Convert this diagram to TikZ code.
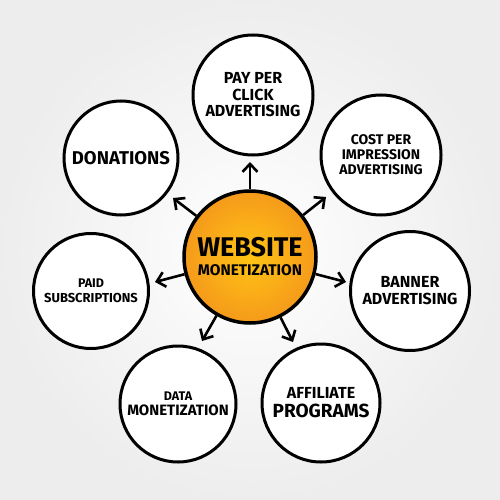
\documentclass[tikz,border=0pt]{standalone}
\usepackage{fontspec}
\setmainfont{Fira Sans}
\usetikzlibrary{arrows.meta}
\definecolor{ringorangeA}{HTML}{FFC414}
\definecolor{ringorangeB}{HTML}{F59A1B}
\newcommand{\fs}[2]{\fontsize{#1}{#2}\selectfont}
\tikzset{
  leaf/.style={circle, draw=black, line width=3pt, fill=white, inner sep=0pt, align=center},
  hub/.style={circle, draw=black, line width=3.5pt, inner color=ringorangeA, outer color=ringorangeB, inner sep=0pt, align=center},
  arr/.style={line width=2.6pt, -{Straight Barb[length=8pt,width=15pt,line width=2.6pt]}}
}
\begin{document}
\begin{tikzpicture}[x=1pt,y=-1pt]
\useasboundingbox (0,0) rectangle (500,500);
\shade[inner color=white, outer color=black!7] (0,0) rectangle (500,500);

\node[hub, minimum size=132pt, font=\bfseries\fs{15.4}{19}] (c) at (250,257) {{\fs{27}{19}WEBSITE}\\{\fs{15.4}{19}MONETIZATION}};

\node[leaf, minimum size=120pt, font=\bfseries\fs{16}{16.5}] (ppc) at (253,95) {PAY PER\\CLICK\\ADVERTISING};
\node[leaf, minimum size=120pt, font=\bfseries\fs{14}{15}] (cpi) at (381,155) {COST PER\\IMPRESSION\\ADVERTISING};
\node[leaf, minimum size=119pt, font=\bfseries\fs{16}{17}] (ban) at (410,291) {BANNER\\ADVERTISING};
\node[leaf, minimum size=118pt, font=\bfseries\fs{17}{19}] (aff) at (321,403) {{\fs{16}{19}AFFILIATE}\\{\fs{19}{19}PROGRAMS}};
\node[leaf, minimum size=116pt, font=\bfseries\fs{14}{15.5}] (dat) at (178,404) {{\fs{12.5}{15.5}DATA}\\{\fs{15}{15.5}MONETIZATION}};
\node[leaf, minimum size=115pt, font=\bfseries\fs{13}{15}] (sub) at (91,291) {{\fs{12.5}{15}PAID}\\{\fs{13}{15}SUBSCRIPTIONS}};
\node[leaf, minimum size=114pt, font=\bfseries\fs{18.5}{18}] (don) at (121,158) {DONATIONS};

\coordinate (tu) at (250,162);
\coordinate (tul) at (173,198);
\coordinate (tur) at (326,197);
\coordinate (tl) at (155,282);
\coordinate (tr) at (346,282);
\coordinate (tdl) at (202,341);
\coordinate (tdr) at (293,342);

\draw[arr] (c) -- (tu);
\draw[arr] (c) -- (tul);
\draw[arr] (c) -- (tur);
\draw[arr] (c) -- (tl);
\draw[arr] (c) -- (tr);
\draw[arr] (c) -- (tdl);
\draw[arr] (c) -- (tdr);
\end{tikzpicture}
\end{document}
